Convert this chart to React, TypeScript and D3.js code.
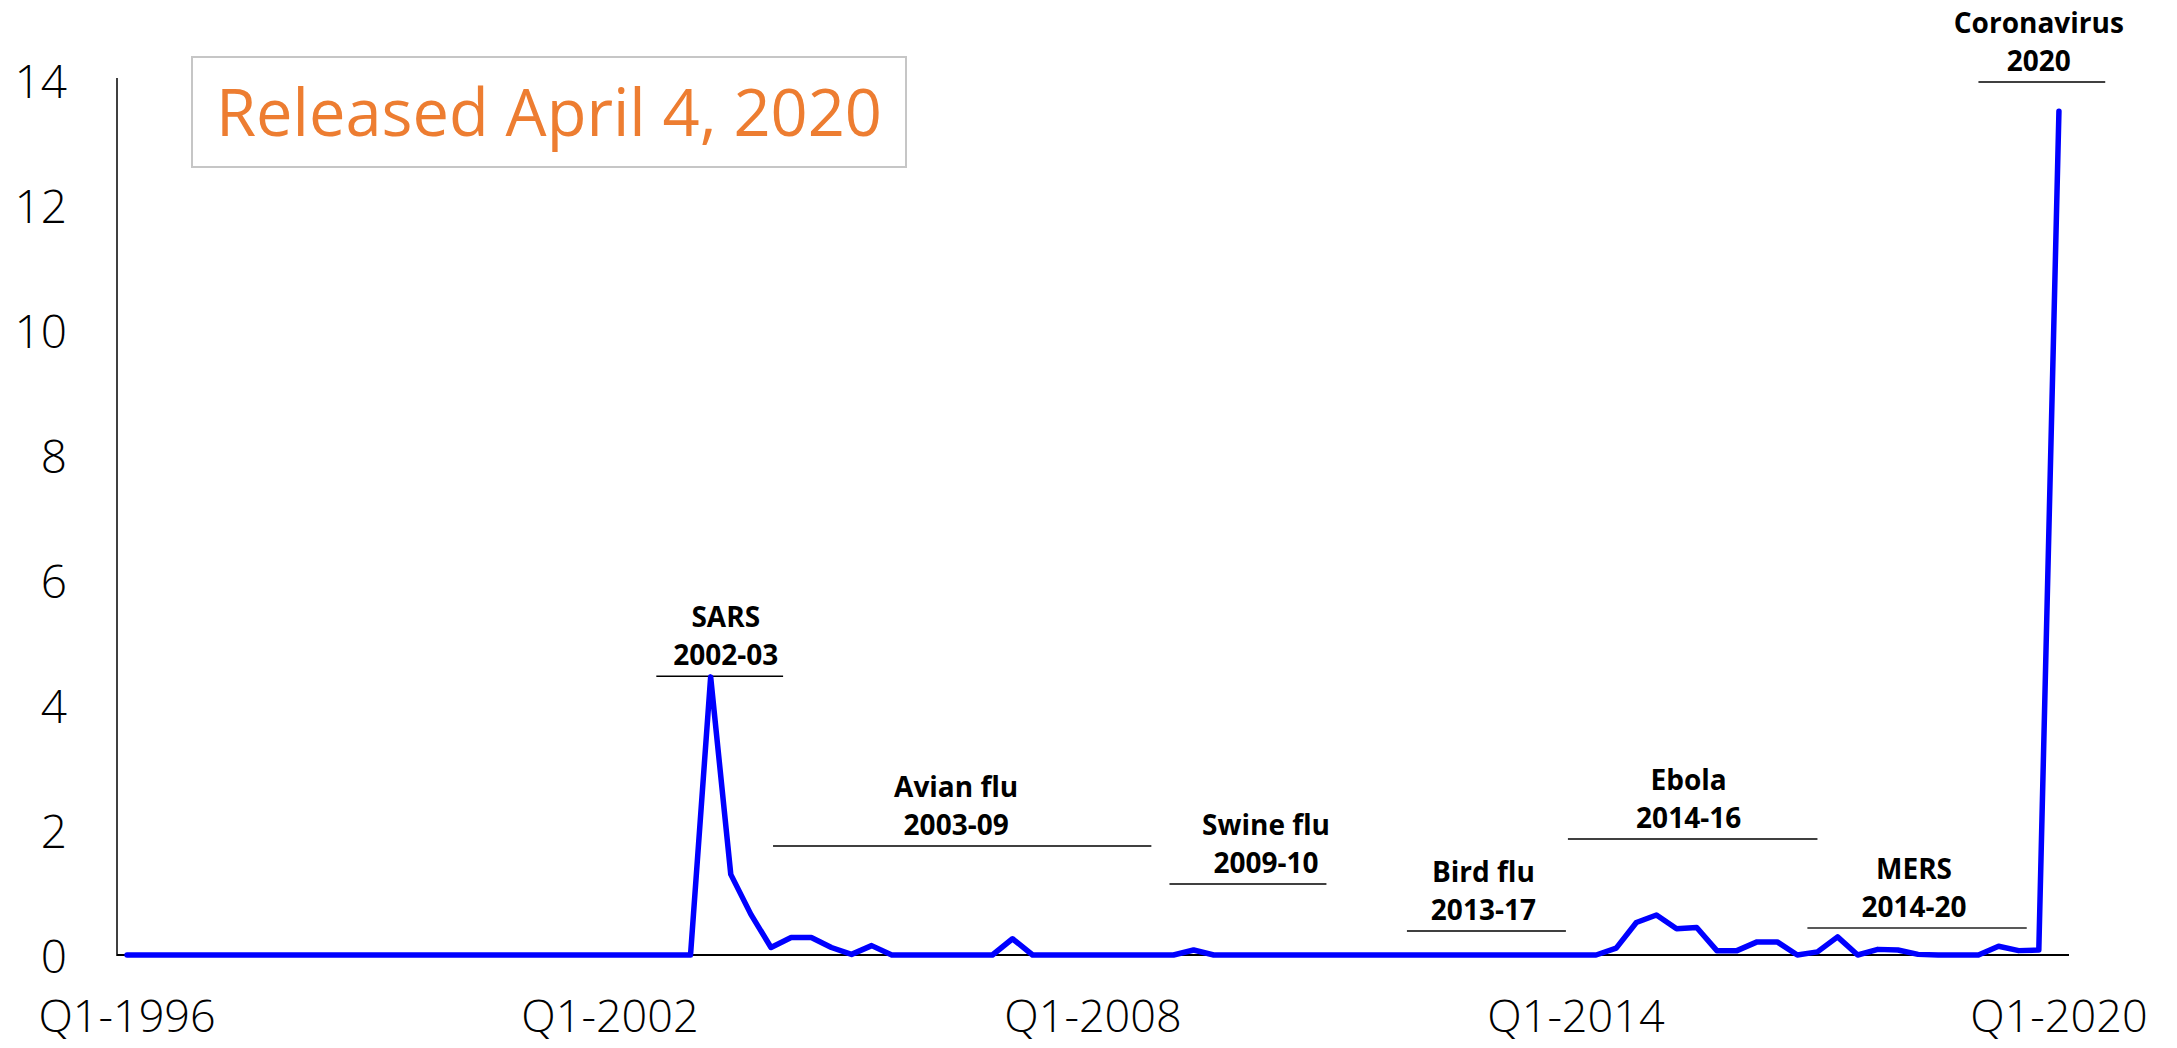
import React from "react";
import * as d3 from "d3";

// ---- data ----
const startYear = 1996;
const quarterCount = 97;
const quarters: string[] = Array.from({ length: quarterCount }, (_, i) =>
  `Q${(i % 4) + 1}-${startYear + Math.floor(i / 4)}`
);

const pandemicIndex: number[] = [
  // 1996-2002 (Q1-1996 .. Q1-2003)
  0, 0, 0, 0, 0, 0, 0, 0, 0, 0,
  0, 0, 0, 0, 0, 0, 0, 0, 0, 0,
  0, 0, 0, 0, 0, 0, 0, 0, 0,
  // Q2-2003 .. Q2-2005
  4.45, 1.29, 0.65, 0.12, 0.28, 0.28, 0.12, 0.01, 0.15,
  // Q3-2005 .. Q4-2006
  0, 0, 0, 0, 0, 0,
  // Q1-2007
  0.26,
  // Q2-2007 .. Q1-2009
  0, 0, 0, 0, 0, 0, 0, 0,
  // Q2-2009
  0.08,
  // Q3-2009 .. Q1-2014
  0, 0, 0, 0, 0, 0, 0, 0, 0, 0,
  0, 0, 0, 0, 0, 0, 0, 0, 0,
  // Q2-2014 .. Q1-2020
  0, 0.11, 0.52, 0.64, 0.42, 0.44, 0.07, 0.07, 0.21, 0.21,
  0, 0.05, 0.29, 0, 0.09, 0.08, 0.01, 0, 0, 0,
  0.14, 0.07, 0.08, 13.5,
];

const xTickLabels: string[] = ["Q1-1996", "Q1-2002", "Q1-2008", "Q1-2014", "Q1-2020"];
const yTicks: number[] = [0, 2, 4, 6, 8, 10, 12, 14];

const eventNames: string[] = ["SARS", "Avian flu", "Swine flu", "Bird flu", "Ebola", "MERS", "Coronavirus"];
const eventYears: string[] = ["2002-03", "2003-09", "2009-10", "2013-17", "2014-16", "2014-20", "2020"];
// bracket extent in quarter index units, and its level in index units
const eventStart: number[] = [26.3, 32.1, 51.8, 63.6, 71.6, 83.5, 92.0];
const eventEnd: number[] = [32.6, 50.9, 59.6, 71.5, 84.0, 94.4, 98.3];
const eventCenter: number[] = [29.75, 41.2, 56.6, 67.4, 77.6, 88.8, 95.0];
const eventLevel: number[] = [4.46, 1.744, 1.136, 0.384, 1.856, 0.432, 13.97];

const releaseNote = "Released April 4, 2020";

export default function App() {
  const W = 2177;
  const H = 1048;
  const left = 117;
  const right = 2069;
  const top = 80;
  const bottom = 955;

  const x = d3.scaleLinear().domain([-0.5, quarterCount - 0.5]).range([left, right]);
  const y = d3.scaleLinear().domain([0, 14]).range([bottom, top]);

  const line = d3
    .line<number>()
    .x((_, i) => x(i))
    .y((d) => y(d));

  const font = "'Open Sans', 'Noto Sans', sans-serif";

  return (
    <svg
      width={W}
      height={H}
      style={{ position: "absolute", left: 0, top: 0, background: "#fff" }}
      fontFamily={font}
    >
      <rect x={0} y={0} width={W} height={H} fill="#fff" />

      {/* release note box */}
      <rect x={192} y={57} width={714} height={110} fill="#fff" stroke="#c6c6c6" strokeWidth={2} />
      <text
        x={549}
        y={136}
        textAnchor="middle"
        fontSize={66}
        fill="#ED7D31"
        textLength={666}
        lengthAdjust="spacingAndGlyphs"
      >
        {releaseNote}
      </text>

      {/* y axis */}
      <line x1={left} x2={left} y1={y(14) - 2} y2={bottom + 1} stroke="#000" strokeWidth={1.5} />
      {yTicks.map((t) => (
        <text
          key={t}
          x={67}
          y={y(t)}
          textAnchor="end"
          dominantBaseline="central"
          fontSize={46}
          fontWeight={300}
          fill="#000"
        >
          {t}
        </text>
      ))}

      {/* x axis */}
      <line x1={left} x2={right} y1={bottom} y2={bottom} stroke="#000" strokeWidth={2} />
      {xTickLabels.map((lab) => {
        const idx = quarters.indexOf(lab);
        return (
          <text
            key={lab}
            x={x(idx)}
            y={1032}
            textAnchor="middle"
            fontSize={45}
            fontWeight={300}
            fill="#000"
          >
            {lab}
          </text>
        );
      })}

      {/* event annotations */}
      {eventNames.map((name, k) => {
        const ly = y(eventLevel[k]);
        return (
          <g key={name}>
            <line
              x1={x(eventStart[k])}
              x2={x(eventEnd[k])}
              y1={ly}
              y2={ly}
              stroke={name === "MERS" ? "#595959" : "#000"}
              strokeWidth={name === "MERS" ? 2.2 : 1.5}
            />
            <text
              x={x(eventCenter[k])}
              y={ly - 49}
              textAnchor="middle"
              fontSize={28}
              fontWeight={700}
              fill="#000"
            >
              {name}
            </text>
            <text
              x={x(eventCenter[k])}
              y={ly - 11}
              textAnchor="middle"
              fontSize={28}
              fontWeight={700}
              fill="#000"
            >
              {eventYears[k]}
            </text>
          </g>
        );
      })}

      {/* series */}
      <path
        d={line(pandemicIndex) || ""}
        fill="none"
        stroke="#0000FF"
        strokeWidth={5.5}
        strokeLinejoin="round"
        strokeLinecap="round"
      />
    </svg>
  );
}
